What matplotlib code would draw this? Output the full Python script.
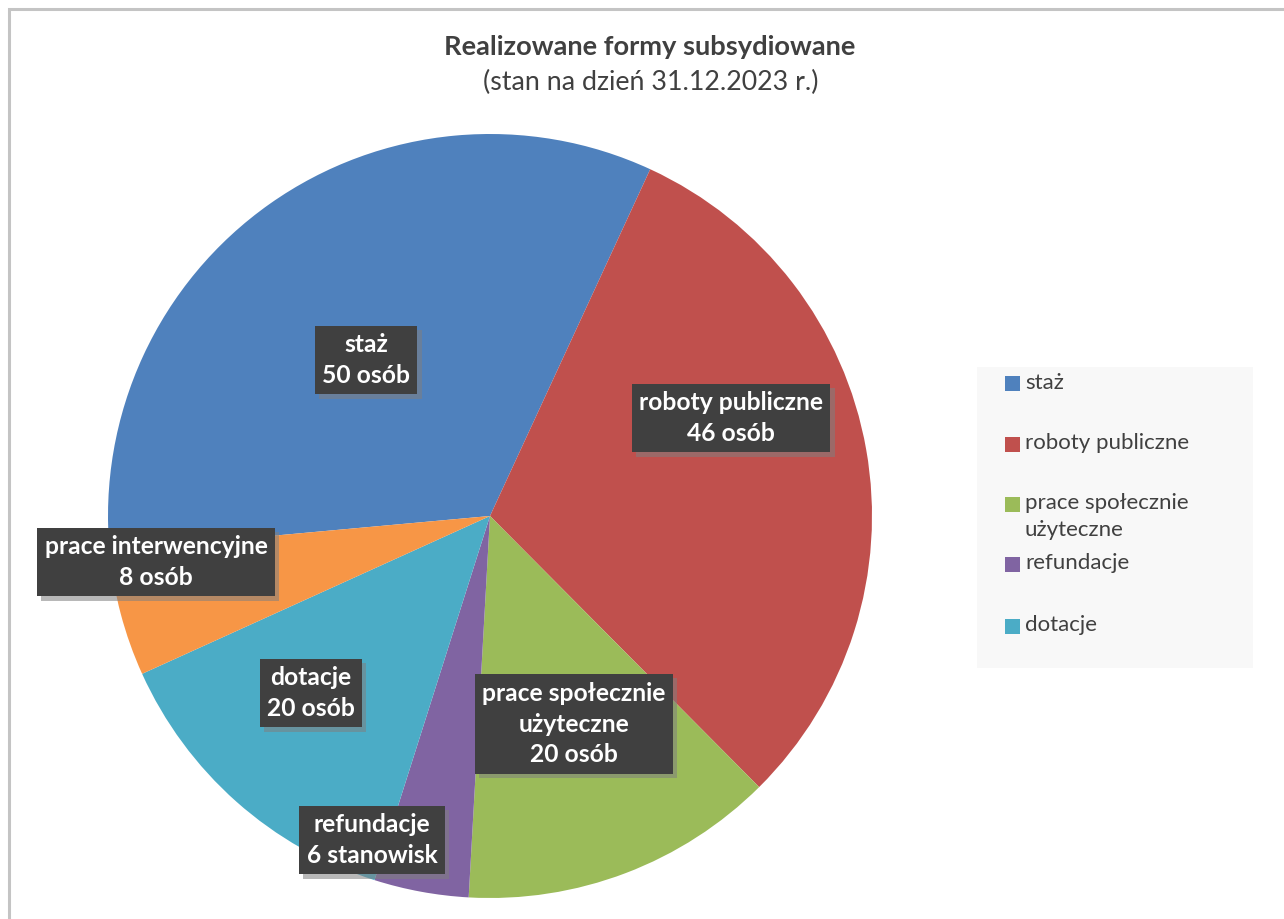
import matplotlib
matplotlib.use("Agg")
import matplotlib.pyplot as plt
import matplotlib.patheffects as pe
from matplotlib.patches import Rectangle

categories = ["staż", "roboty publiczne", "prace społecznie użyteczne", "refundacje", "dotacje", "prace interwencyjne"]
values = [50, 46, 20, 6, 20, 8]
value_labels = ["50 osób", "46 osób", "20 osób", "6 stanowisk", "20 osób", "8 osób"]
slice_label_names = ["staż", "roboty publiczne", "prace społecznie\nużyteczne", "refundacje", "dotacje", "prace interwencyjne"]
legend_names = ["staż", "roboty publiczne", "prace społecznie\nużyteczne", "refundacje", "dotacje"]
colors = ["#4F81BD", "#C0504D", "#9BBB59", "#8064A2", "#4BACC6", "#F79646"]

W, H = 1284, 919
FONT = ["Lato", "DejaVu Sans"]
fig = plt.figure(figsize=(W / 100, H / 100), dpi=100)
fig.patch.set_facecolor("white")

# outer frame
fig.patches.append(Rectangle((9 / W, -0.1), 1.2, (H - 9) / H + 0.1, transform=fig.transFigure,
                             fill=False, edgecolor="#c4c4c4", linewidth=2.2))

cx, cy, R = 490, 516, 382
ax = fig.add_axes([(cx - R) / W, (H - cy - R) / H, 2 * R / W, 2 * R / H])
wedges, _ = ax.pie(values, colors=colors, startangle=185.2, counterclock=False, radius=1,
                   wedgeprops=dict(linewidth=0))
ax.set_xlim(-1, 1)
ax.set_ylim(-1, 1)
ax.set_aspect("equal")
ax.axis("off")

# label box centres in pixel coords (layout)
label_pos = [(366, 360), (731, 418), (574, 724), (372, 840), (311, 693), (156, 562)]
for name, vl, (px, py) in zip(slice_label_names, value_labels, label_pos):
    t = ax.text((px - cx) / R, (cy - py) / R, f"{name}\n{vl}", ha="center", va="center",
                color="white", fontsize=17.7, fontweight="bold", family=FONT, linespacing=1.42,
                bbox=dict(boxstyle="square,pad=0.3", facecolor="#404040", edgecolor="none"))
    t.get_bbox_patch().set_path_effects([
        pe.SimplePatchShadow(offset=(3, -3), shadow_rgbFace="#7f7f7f", alpha=0.55), pe.Normal()])

# title
fig.text(650 / W, 1 - 47 / H, "Realizowane formy subsydiowane", ha="center", va="center",
         fontsize=19.6, fontweight="bold", color="#404040", family=FONT)
fig.text(651 / W, 1 - 82 / H, "(stan na dzień 31.12.2023 r.)", ha="center", va="center",
         fontsize=19.3, color="#404040", family=FONT)

# legend (manual, Excel-like layout)
fig.patches.append(Rectangle((977 / W, 1 - 668 / H), (1253 - 977) / W, (668 - 367) / H,
                             transform=fig.transFigure, facecolor="#f8f8f8", edgecolor="none"))
legend_y = [384, 444, 504, 564, 626]
for name, col, ly in zip(legend_names, colors, legend_y):
    fig.patches.append(Rectangle((1005 / W, 1 - (ly + 7.5) / H), 15 / W, 15 / H,
                                 transform=fig.transFigure, facecolor=col, edgecolor="none"))
    fig.text(1025 / W, 1 - (ly - 11) / H, name, ha="left", va="top", fontsize=16,
             color="#404040", family=FONT, linespacing=1.45)

fig.savefig("out.png", dpi=100)
